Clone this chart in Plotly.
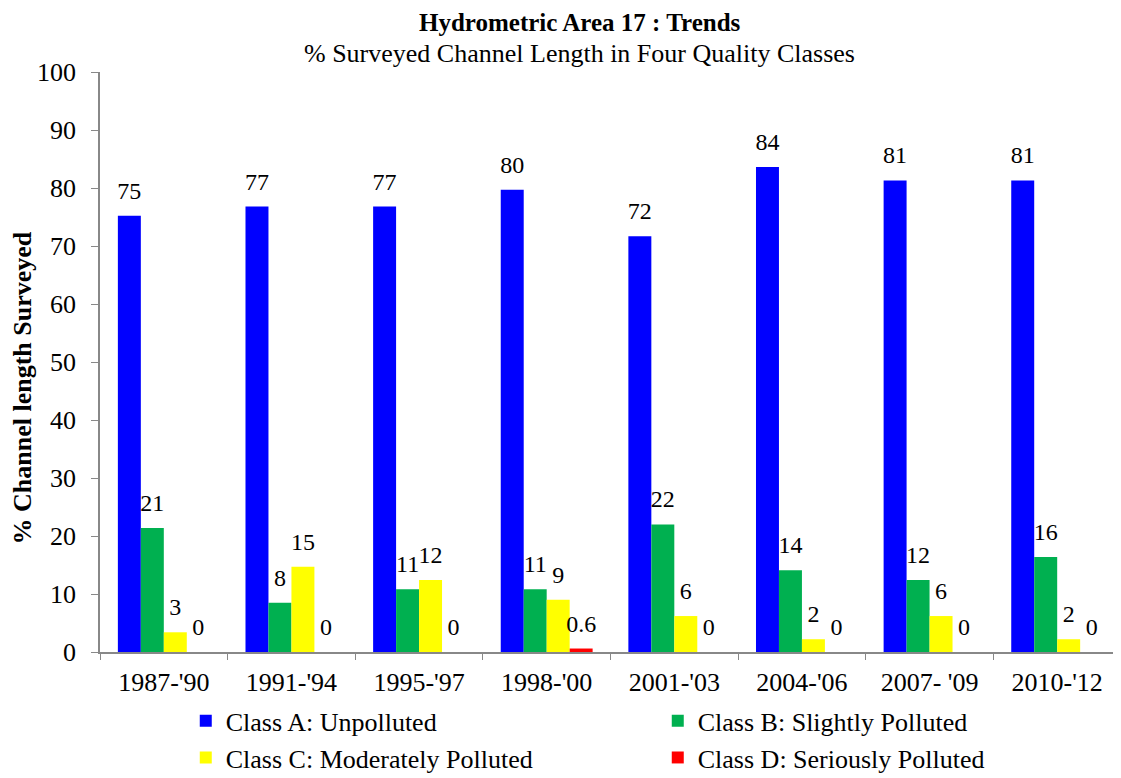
import plotly.graph_objects as go

categories = ["1987-'90", "1991-'94", "1995-'97", "1998-'00", "2001-'03", "2004-'06", "2007- '09", "2010-'12"]
class_a = [75.2, 76.8, 76.8, 79.7, 71.7, 83.6, 81.3, 81.3]
class_b = [21.4, 8.5, 10.8, 10.8, 22.0, 14.1, 12.4, 16.4]
class_c = [3.4, 14.7, 12.4, 9.0, 6.2, 2.2, 6.2, 2.2]
class_d = [0.0, 0.0, 0.0, 0.6, 0.0, 0.0, 0.0, 0.0]
series_names = ["Class A: Unpolluted", "Class B: Slightly Polluted",
                "Class C: Moderately Polluted", "Class D: Seriously Polluted"]
series_colors = ["#0000FF", "#00B050", "#FFFF00", "#FF0000"]

FONT = "Liberation Serif"
GAP = 0.28


def label(v):
    if 0 < v < 1:
        return f"{v:.1f}"
    return f"{round(v):d}"


fig = go.Figure()
all_series = [class_a, class_b, class_c, class_d]
for i, (name, vals, col) in enumerate(zip(series_names, all_series, series_colors)):
    fig.add_trace(go.Bar(
        x=categories, y=vals, name=name,
        marker=dict(color=col, line=dict(width=0)),
        offsetgroup=f"g{i}",
    ))
# value labels, positioned by the library's grouped layout (same offset groups)
for i, (name, vals) in enumerate(zip(series_names, all_series)):
    fig.add_trace(go.Scatter(
        x=categories, y=vals, mode="markers+text",
        text=[label(v) for v in vals],
        textposition="top center",
        textfont=dict(family=FONT, size=24, color="black"),
        marker=dict(size=16, opacity=0),
        showlegend=False, hoverinfo="skip", cliponaxis=False,
        offsetgroup=f"g{i}",
    ))

fig.update_layout(
    width=1113, height=770,
    paper_bgcolor="white", plot_bgcolor="white",
    margin=dict(l=92, r=0, t=64, b=126, autoexpand=False),
    barmode="group", bargap=GAP, bargroupgap=0,
    scattermode="group", scattergap=GAP,
    font=dict(family=FONT, size=26, color="black"),
    showlegend=True,
    legend=dict(orientation="h", x=0.084, xanchor="left", y=-0.078, yanchor="top",
                entrywidth=427, entrywidthmode="pixels", bgcolor="rgba(0,0,0,0)",
                font=dict(family=FONT, size=26), itemwidth=30,
                tracegroupgap=0),
    xaxis=dict(showline=True, linecolor="#888888", linewidth=1.5,
               ticks="outside", tickson="boundaries", ticklen=6, tickcolor="#888888",
               tickfont=dict(family=FONT, size=26), showgrid=False,
               ticklabelstandoff=6),
    yaxis=dict(range=[0, 100], dtick=10, showline=True, linecolor="#888888", linewidth=1.5,
               ticks="outside", ticklen=7, tickcolor="#888888",
               tickfont=dict(family=FONT, size=26), showgrid=False, zeroline=False,
               ticklabelstandoff=10),
    annotations=[
        dict(text="<b>Hydrometric Area 17 : Trends</b>", xref="paper", yref="paper",
             x=0.47, y=1.0845, xanchor="center", yanchor="middle", showarrow=False,
             font=dict(family=FONT, size=25)),
        dict(text="% Surveyed Channel Length in Four Quality Classes", xref="paper", yref="paper",
             x=0.47, y=1.032, xanchor="center", yanchor="middle", showarrow=False,
             font=dict(family=FONT, size=26)),
        dict(text="<b>% Channel length Surveyed</b>", xref="paper", yref="paper",
             x=-0.076, y=0.455, xanchor="center", yanchor="middle", textangle=-90,
             showarrow=False, font=dict(family=FONT, size=26)),
    ],
)

fig.write_html("out.html")
